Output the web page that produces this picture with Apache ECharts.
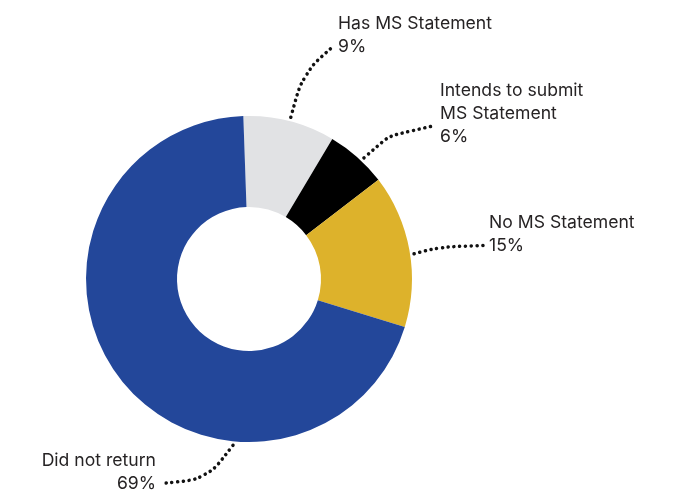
<!DOCTYPE html>
<html>
<head>
<meta charset="utf-8">
<script src="https://cdn.jsdelivr.net/npm/echarts@6/dist/echarts.min.js"></script>
<style>
  html, body { margin: 0; padding: 0; background: #ffffff; }
  #chart { width: 678px; height: 491px; }
</style>
</head>
<body>
<div id="chart"></div>
<script>
// Response status breakdown (percent)
const categories = ['Has MS Statement', 'Intends to submit\nMS Statement', 'No MS Statement', 'Did not return'];
const shares = [9, 6, 15, 69];
const sliceColors = ['#E1E2E4', '#000000', '#DDB22B', '#23479A'];

// Donut geometry
const CX = 249, CY = 279, R_IN = 72, R_OUT = 163;

// Callout placement: text anchor, leader elbow, leader smoothing, and where the leader meets the ring
const callouts = [
  { x: 338, y: 35,  align: 'left',  angle: 75.5,  elbow: [303, 73],  smooth: 0.35 },
  { x: 440, y: 114, align: 'left',  angle: 46.5,  elbow: [389, 136], smooth: 0.15 },
  { x: 489, y: 234, align: 'left',  angle: 8.7,   elbow: [440, 247], smooth: 0.35 },
  { x: 156, y: 472, align: 'right', angle: -95.5, elbow: [207, 479], smooth: 0.3 }
];

const chart = echarts.init(document.getElementById('chart'), null, { renderer: 'canvas' });

chart.setOption({
  animation: false,
  backgroundColor: '#ffffff',
  series: [{
    type: 'pie',
    center: [CX, CY],
    radius: [R_IN, R_OUT],
    startAngle: 92,
    clockwise: true,
    avoidLabelOverlap: false,
    silent: true,
    itemStyle: { borderWidth: 0 },
    data: categories.map((name, i) => ({
      name: name,
      value: shares[i],
      itemStyle: { color: sliceColors[i] },
      labelLine: { smooth: callouts[i].smooth }
    })),
    label: {
      show: true,
      formatter: p => p.name + '\n' + p.value + '%',
      fontFamily: 'Inter',
      fontSize: 17.6,
      lineHeight: 23,
      color: '#262324'
    },
    labelLine: {
      show: true,
      lineStyle: {
        color: '#111111',
        width: 3.5,
        type: [0.1, 5.7],
        cap: 'round'
      }
    },
    labelLayout: function (params) {
      const c = callouts[params.dataIndex];
      const a = c.angle * Math.PI / 180;
      const r = R_OUT + 4;
      const start = [CX + r * Math.cos(a), CY - r * Math.sin(a)];
      const endX = c.align === 'left' ? c.x - 5 : c.x + 5;
      const endY = c.y + 11.5;
      return {
        x: c.x,
        y: c.y,
        align: c.align,
        verticalAlign: 'middle',
        labelLinePoints: [start, c.elbow, [endX, endY]]
      };
    }
  }]
});
</script>
</body>
</html>
